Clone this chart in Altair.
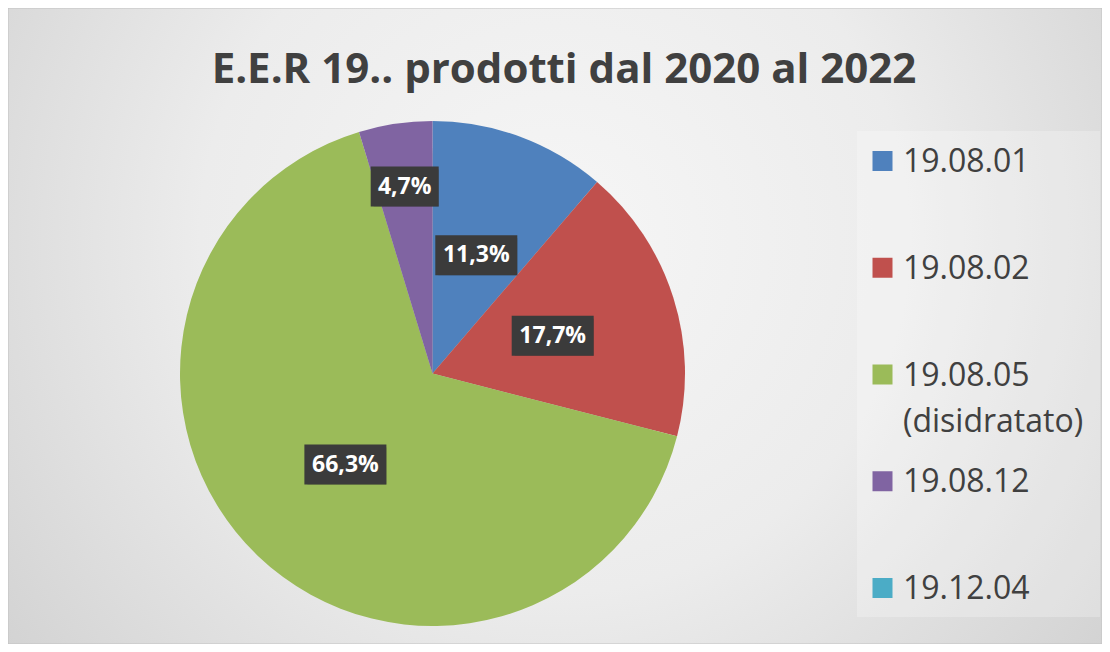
import math
import altair as alt
import pandas as pd

# ---- data ----
categories = ["19.08.01", "19.08.02", "19.08.05\n(disidratato)", "19.08.12", "19.12.04"]
values = [11.3, 17.7, 66.3, 4.7, 0.0]
colors = ["#4F81BD", "#C0504D", "#9BBB59", "#8064A2", "#4BACC6"]
title_text = "E.E.R 19.. prodotti dal 2020 al 2022"

# ---- layout ----
W, H = 1094, 636
CX, CY, R = 424.5, 365.5, 252.5

df = pd.DataFrame({"cat": categories, "value": values, "idx": list(range(len(categories)))})
base = alt.Chart(df)
one = alt.Data(values=[{}])

color_scale = alt.Scale(domain=categories, range=colors)

bg_grad = {
    "gradient": "radial",
    "x1": 0.5, "y1": 0.42, "r1": 0,
    "x2": 0.5, "y2": 0.42, "r2": 0.72,
    "stops": [
        {"offset": 0, "color": "#f6f6f6"},
        {"offset": 0.45, "color": "#ececec"},
        {"offset": 1, "color": "#cbcbcb"},
    ],
}

bg = alt.Chart(one).mark_rect(fill=bg_grad, stroke="#c2c2c2", strokeWidth=1).encode(
    x=alt.value(0), x2=alt.value(W), y=alt.value(0), y2=alt.value(H)
)

leg_box = alt.Chart(one).mark_rect(fill="#ffffff", opacity=0.25).encode(
    x=alt.value(849), x2=alt.value(1092), y=alt.value(123), y2=alt.value(609)
)

shadows = alt.layer(*[
    alt.Chart(one).mark_circle(size=math.pi * rr * rr, color="#000000", opacity=0.05).encode(
        x=alt.value(CX), y=alt.value(CY + 4)
    )
    for rr in (253, 256, 259)
])

pie = base.mark_arc(outerRadius=R).encode(
    theta=alt.Theta("value:Q", stack=True),
    order=alt.Order("idx:Q"),
    color=alt.Color("cat:N", scale=color_scale, legend=None),
    x=alt.value(CX),
    y=alt.value(CY),
)

lab = (
    base.transform_window(cum="sum(value)", sort=[alt.SortField("idx")], frame=[None, 0])
    .transform_joinaggregate(total="sum(value)")
    .transform_filter("datum.value > 0")
    .transform_calculate(
        mid="(datum.cum - datum.value / 2) / datum.total * 2 * PI",
        rr="datum.value < 5 ? 189 : 126",
        label="replace(format(datum.value, '.1f'), '.', ',') + '%'",
    )
    .transform_calculate(
        px=f"{CX} + datum.rr * sin(datum.mid)",
        py=f"{CY} - datum.rr * cos(datum.mid)",
        w="length(datum.label) < 5 ? 68 : 82",
    )
    .transform_calculate(
        bx1="datum.px - datum.w / 2",
        bx2="datum.px + datum.w / 2",
        by1="datum.py - 20",
        by2="datum.py + 20",
    )
)

box_enc = dict(
    x=alt.X("bx1:Q", scale=None, axis=None),
    x2="bx2:Q",
    y=alt.Y("by1:Q", scale=None, axis=None),
    y2="by2:Q",
)
box_shadow = lab.mark_rect(color="#000000", opacity=0.25, xOffset=3, yOffset=3).encode(**box_enc)
box = lab.mark_rect(color="#3b3b3b").encode(**box_enc)
box_txt = lab.mark_text(
    font="Open Sans", fontWeight="bold", fontSize=23, color="#ffffff",
    align="center", baseline="middle",
).encode(
    x=alt.X("px:Q", scale=None, axis=None),
    y=alt.Y("py:Q", scale=None, axis=None),
    text="label:N",
)

leg_y = alt.Y("cat:N", scale=alt.Scale(type="point", domain=categories, range=[153, 580], padding=0), axis=None)
leg_sym = base.mark_square(size=400, opacity=1).encode(
    x=alt.value(874.5),
    y=leg_y,
    color=alt.Color("cat:N", scale=color_scale, legend=None),
)
leg_txt = base.mark_text(
    align="left", baseline="alphabetic", dy=11, font="Open Sans", fontSize=32,
    color="#404040", lineBreak="\n", lineHeight=46,
).encode(x=alt.value(895), y=leg_y, text="cat:N")

title = alt.Chart(one).mark_text(
    font="Open Sans", fontWeight="bold", fontSize=42, color="#404040",
    align="center", baseline="alphabetic",
).encode(x=alt.value(556), y=alt.value(75), text=alt.value(title_text))

chart = (
    alt.layer(bg, leg_box, shadows, pie, box_shadow, box, box_txt, leg_sym, leg_txt, title)
    .resolve_scale(x="independent", y="independent")
    .properties(width=W, height=H, padding=0, autosize="none")
    .configure_view(stroke=None)
)

chart.save("out.html", embed_options={"renderer": "svg", "actions": False})
